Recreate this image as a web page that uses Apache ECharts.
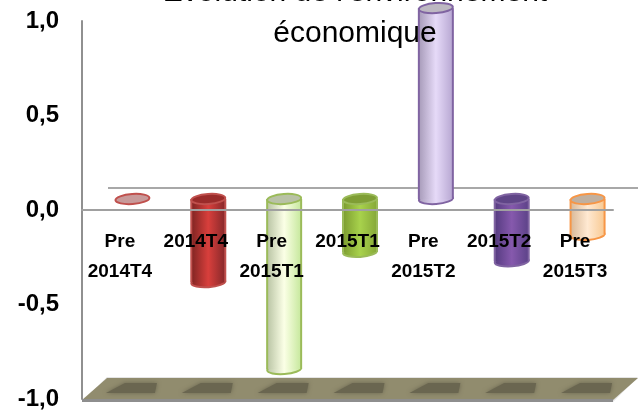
<!DOCTYPE html>
<html>
<head>
<meta charset="utf-8">
<style>
  html, body { margin: 0; padding: 0; background: #fff; overflow: hidden; }
  #main { width: 638px; height: 415px; }
</style>
<script src="https://cdn.jsdelivr.net/npm/echarts@6/dist/echarts.min.js"></script>
</head>
<body>
<div id="main"></div>
<script>
var categories = ['Pre\n2014T4', '2014T4', 'Pre\n2015T1', '2015T1', 'Pre\n2015T2', '2015T2', 'Pre\n2015T3'];
var values = [0.0, -0.44, -0.9, -0.28, 1.01, -0.33, -0.19];
var yTicks = { min: -1, max: 1, interval: 0.5 };

// side, middle, side of the cylinder, then outline and cap
var cylinderColors = [
  ['#c0504d', '#c0504d', '#c0504d', '#c0504d', '#c89a9a'],
  ['#7f2422', '#d83f3c', '#86282a', '#c0504d', '#9a2b2a'],
  ['#b9c4a4', '#fbffe6', '#c6e89c', '#9bbb59', '#b9c2a6'],
  ['#7c9c30', '#a8d24c', '#86a838', '#9bbb59', '#7f9e35'],
  ['#a79bb9', '#e6daf8', '#b7a7d2', '#8064a2', '#bdb8c2'],
  ['#553b80', '#8659ad', '#5c4288', '#8064a2', '#5f4587'],
  ['#d9b998', '#ffe9d2', '#f8c992', '#f79646', '#c0b0a0']
];

var depthX = 25, depthY = 22, barW = 34, capH = 10;
var font = 'Liberation Sans';

function renderFloor(params, api) {
  var r = params.coordSys;
  var left = r.x, right = r.x + r.width;
  var floorY = r.y + r.height + 1;
  var zeroY = api.coord([0, 0])[1];
  return {
    type: 'group',
    children: [
      { type: 'polygon', shape: { points: [[left + depthX, floorY - depthY - 1], [right + depthX, floorY - depthY - 1], [right, floorY + 2], [left, floorY + 2]] }, style: { fill: '#e4e4e4' } },
      { type: 'polygon', shape: { points: [[left + depthX, floorY - depthY], [right + depthX, floorY - depthY], [right, floorY], [left, floorY]] }, style: { fill: '#918c6e' } },
      { type: 'rect', shape: { x: left, y: floorY - 1, width: right - left, height: 3 }, style: { fill: '#8e8e8e' } },
      { type: 'line', shape: { x1: left + depthX + 1, y1: zeroY - depthY, x2: right + depthX, y2: zeroY - depthY }, style: { stroke: '#a8a8a8', lineWidth: 2 } }
    ]
  };
}

function renderShadow(params, api) {
  var cx = api.coord([api.value(0), -1])[0];
  var floorY = api.coord([0, -1])[1];
  return {
    type: 'polygon',
    shape: { points: [[cx + 5, floorY - 16], [cx + 37, floorY - 16], [cx + 35, floorY - 6], [cx - 14, floorY - 6]] },
    style: { fill: '#6a6650', shadowBlur: 4, shadowColor: '#6a6650' }
  };
}

function renderCylinder(params, api) {
  var c = cylinderColors[params.dataIndex];
  var v = api.value(1);
  var cx = api.coord([api.value(0), 0])[0] + depthX / 2;
  var y0 = api.coord([0, 0])[1] - depthY / 2;
  var y1 = api.coord([0, v])[1] - depthY / 2;
  var top = Math.min(y0, y1), bottom = Math.max(y0, y1);
  var rx = barW / 2, ry = capH / 2;
  var grad = new echarts.graphic.LinearGradient(0, 0, 1, 0, [
    { offset: 0, color: c[0] }, { offset: 0.5, color: c[1] }, { offset: 1, color: c[2] }
  ]);
  var tilt = 0.07;
  var kids = [];
  if (bottom - top > 1) {
    kids.push(
      { type: 'ellipse', shape: { cx: cx, cy: bottom, rx: rx, ry: ry }, rotation: tilt, originX: cx, originY: bottom, style: { fill: grad, stroke: c[3], lineWidth: 2 } },
      { type: 'rect', shape: { x: cx - rx, y: top, width: barW, height: bottom - top }, style: { fill: grad } },
      { type: 'line', shape: { x1: cx - rx, y1: top, x2: cx - rx, y2: bottom }, style: { stroke: c[3], lineWidth: 2 } },
      { type: 'line', shape: { x1: cx + rx, y1: top, x2: cx + rx, y2: bottom }, style: { stroke: c[3], lineWidth: 2 } }
    );
  }
  kids.push({ type: 'ellipse', shape: { cx: cx, cy: top, rx: rx, ry: ry }, rotation: tilt, originX: cx, originY: top, style: { fill: c[4], stroke: c[3], lineWidth: 2 } });
  return { type: 'group', children: kids };
}

var chart = echarts.init(document.getElementById('main'));
chart.setOption({
  animation: false,
  backgroundColor: '#fff',
  title: {
    text: "Evolution de l'environnement\néconomique",
    left: 350,
    top: -33,
    textAlign: 'center',
    textStyle: { fontFamily: font, fontSize: 30, fontWeight: 'normal', color: '#000', lineHeight: 41 },
    z: 20
  },
  grid: { left: 82, right: 25, top: 21, bottom: 16, outerBoundsMode: 'none' },
  xAxis: {
    type: 'category',
    data: categories,
    axisTick: { show: false },
    axisLine: { onZero: true, lineStyle: { color: '#a0a0a0', width: 2 } },
    // labels sit just under the zero line, not under the floor
    axisLabel: { interval: 0, margin: -172, fontFamily: font, fontSize: 19, fontWeight: 'bold', color: '#000', lineHeight: 30 },
    z: 20
  },
  yAxis: {
    type: 'value',
    min: yTicks.min,
    max: yTicks.max,
    interval: yTicks.interval,
    splitLine: { show: false },
    axisTick: { show: false },
    axisLine: { show: true, lineStyle: { color: '#909090', width: 2 } },
    axisLabel: {
      margin: 23,
      padding: [4, 0, 0, 0],
      fontFamily: font,
      fontSize: 24,
      fontWeight: 'bold',
      color: '#000',
      formatter: function (v) { return v.toFixed(1).replace('.', ','); }
    }
  },
  series: [
    { type: 'custom', renderItem: renderFloor, data: [[0, 0]], silent: true, z: 1, clip: false },
    { type: 'custom', renderItem: renderShadow, data: categories.map(function (c, i) { return [i, -1]; }), silent: true, z: 2, clip: false },
    { type: 'custom', renderItem: renderCylinder, data: values.map(function (v, i) { return [i, v]; }), z: 3, clip: false }
  ]
});
</script>
</body>
</html>
